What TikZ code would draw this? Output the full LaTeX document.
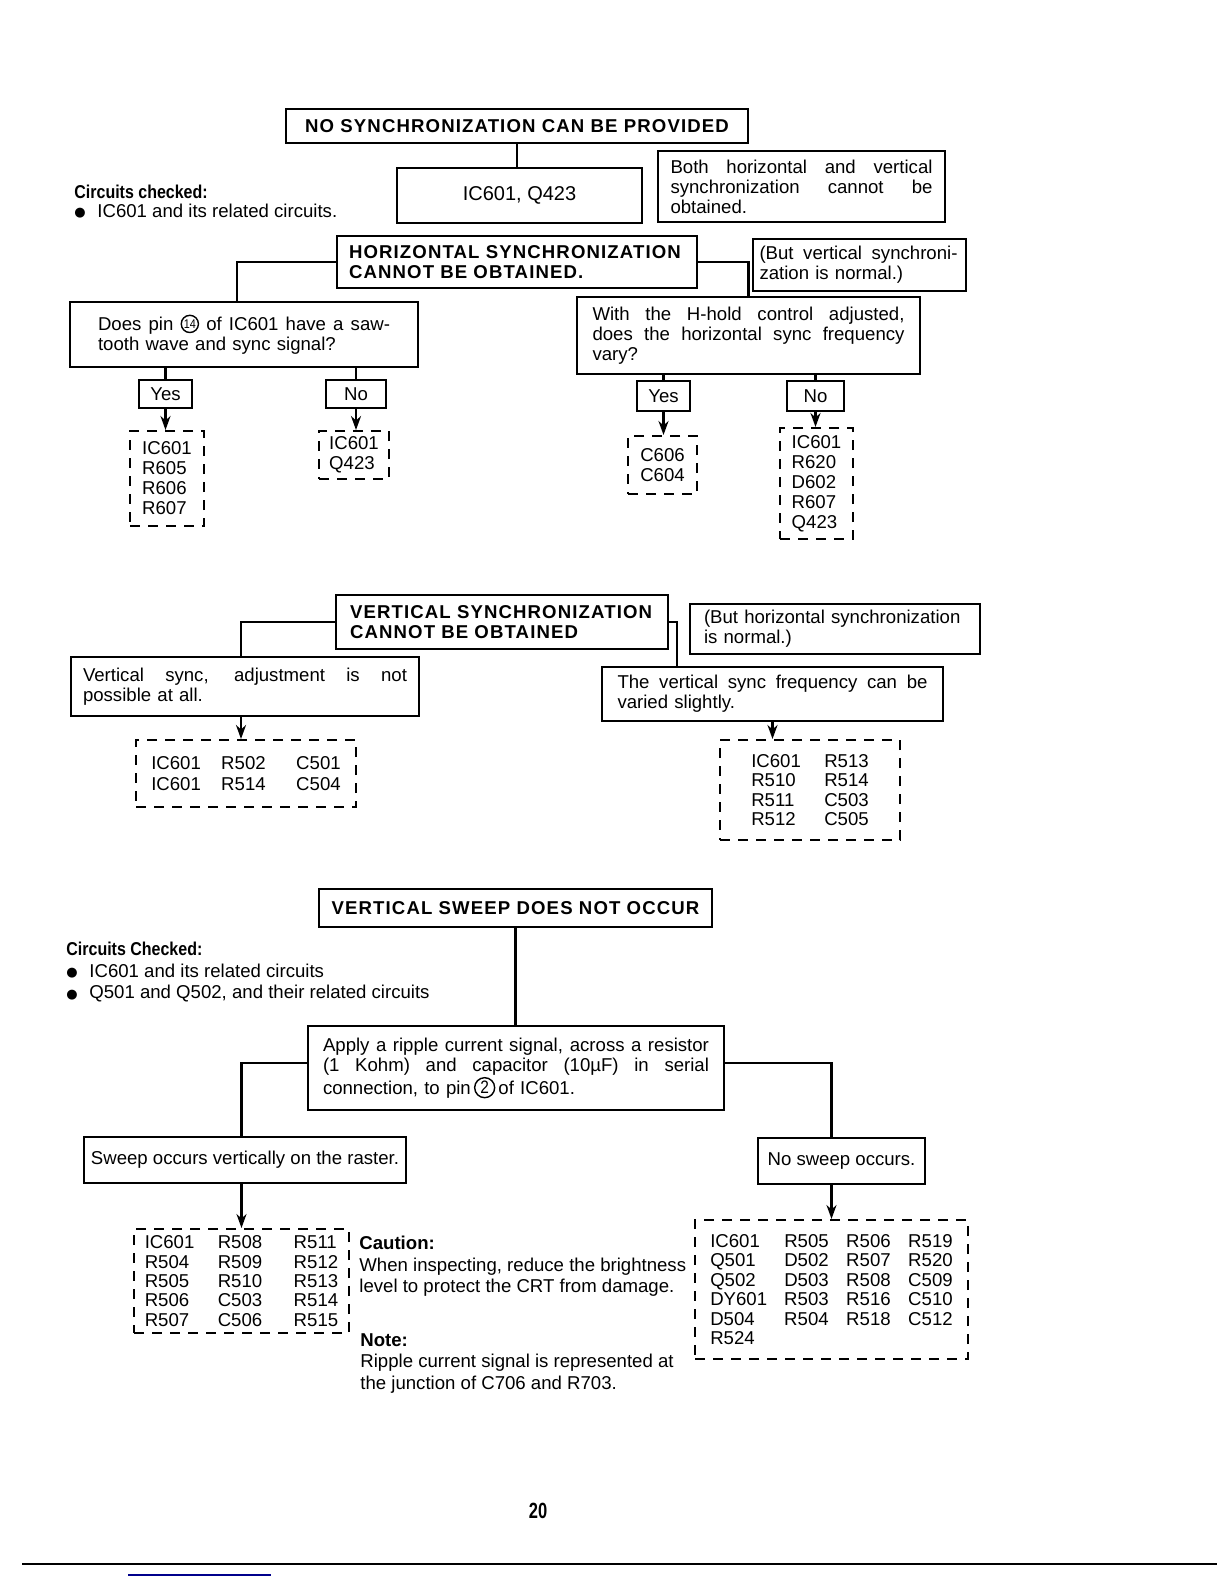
\documentclass[tikz,border=0pt]{standalone}
\usepackage{fontspec}
\usepackage{graphicx}
\setmainfont{Liberation Sans}
\newfontfamily\titlefont{Liberation Sans}[LetterSpace=6]
\newfontfamily\condfont{Liberation Sans}[FakeStretch=0.86]
\newfontfamily\symfont{DejaVu Sans}
\usetikzlibrary{arrows.meta}
% justified line: restore stretchable interword glue, then spread to width
\newcommand{\jl}[2]{{\spaceskip=0pt\xspaceskip=0pt\makebox[#1][s]{#2}}}
\newcommand{\cl}[2]{\makebox[#1][l]{#2}}
\newcommand{\bul}{\makebox[11.5pt][l]{\raisebox{0.3pt}{\symfont\fontsize{6.5}{7}\selectfont ●}}}
\newcommand{\bodysize}{\fontsize{9.3}{10}\selectfont}
% circled number: {radius}{font size}{digits}
\newcommand{\circnum}[3]{\tikz[baseline=-3.3pt]{\draw[line width=0.7pt] (0,0) circle (#1); \pgftext{\condfont\fontsize{#2}{#2}\selectfont #3}}}
% box given by its corners: [options]{name}{x1}{y1}{x2}{y2}{text}
\newcommand{\bx}[7][]{\node[#1, minimum width={(#5-#3)*0.5pt}, minimum height={(#6-#4)*0.5pt}] (#2) at ({(#3+#5)/2},{(#4+#6)/2}) {#7};}
\begin{document}
\begin{tikzpicture}[x=0.5pt,y=-0.5pt,
  every node/.style={font=\bodysize},
  box/.style={draw, line width=1.2pt, inner sep=0pt},
  dbox/.style={draw, line width=1pt, inner sep=0pt, dash pattern=on 5pt off 4pt},
  tfont/.style={font={\titlefont\bfseries\bodysize}},
  conn/.style={line width=1.2pt},
  arr/.style={line width=1.2pt,-{Stealth[length=7pt,width=5pt]}},
  note/.style={anchor=north west, align=left, inner sep=0pt, font={\fontsize{9.3}{10.75}\selectfont}}
]
\fill[white] (0,0) rectangle (1224,1584);
\useasboundingbox (0,0) rectangle (1224,1584);

% ---------- top section ----------
\bx[box, tfont]{t1}{286}{109}{748}{143}{NO SYNCHRONIZATION CAN BE PROVIDED}
\bx[box, font={\fontsize{10}{11}\selectfont}]{ic}{397}{168}{642}{223}{IC601, Q423}
\bx[box, text width=131pt, align=left]{both}{658}{151}{945}{222}
  {\jl{131pt}{Both horizontal and vertical}\\\jl{131pt}{synchronization cannot be}\\obtained.}
\node[anchor=north west, align=left, inner sep=0pt, font={\fontsize{9.3}{9.2}\selectfont}] (cc1) at (74,185)
  {{\condfont\bfseries Circuits checked:}\\\bul IC601 and its related circuits.};

\bx[box, tfont, text width=168pt, align=left]{hor}{337}{236}{697}{288}
  {HORIZONTAL SYNCHRONIZATION\\CANNOT BE OBTAINED.}
\bx[box, text width=100pt, align=left]{bv}{753}{239}{966}{291}
  {\jl{99pt}{(But vertical synchroni-}\\zation is normal.)}
\bx[box, text width=146pt, align=left]{does}{70}{302}{418}{367}
  {\jl{146pt}{Does pin \circnum{4.3pt}{6.3}{14} of IC601 have a saw-}\\tooth wave and sync signal?}
\bx[box, text width=156pt, align=left]{with}{577}{297}{920}{374}
  {\jl{156pt}{With the H-hold control adjusted,}\\\jl{156pt}{does the horizontal sync frequency}\\vary?}

\bx[box]{y1}{139}{380}{192}{408}{Yes}
\bx[box]{n1}{326}{380}{386}{408}{No}
\bx[box]{y2}{637}{381}{690}{411}{Yes}
\bx[box]{n2}{787}{381}{844}{411}{No}

\bx[dbox, align=left]{d1}{130}{431}{204}{526}{IC601\\R605\\R606\\R607}
\bx[dbox, align=left]{d2}{319}{431}{389}{479}{IC601\\Q423}
\bx[dbox, align=left]{d3}{628}{436}{697}{494}{C606\\C604}
\bx[dbox, align=left]{d4}{780}{428}{853}{539}{IC601\\R620\\D602\\R607\\Q423}

\draw[conn] (t1.south) -- (t1.south |- ic.north);
\draw[conn] (hor.west) -| ([xshift=-3.5pt]does.north);
\draw[conn] (hor.east) -| (with.north);
\draw[conn] (y1.north |- does.south) -- (y1.north);
\draw[conn] (n1.north |- does.south) -- (n1.north);
\draw[conn] (y2.north |- with.south) -- (y2.north);
\draw[conn] (n2.north |- with.south) -- (n2.north);
\draw[arr] (y1.south) -- (y1.south |- d1.north);
\draw[arr] (n1.south) -- (n1.south |- d2.north);
\draw[arr] (y2.south) -- (y2.south |- d3.north);
\draw[arr] (n2.south) -- (n2.south |- d4.north);

% ---------- middle section ----------
\bx[box, tfont, text width=152pt, align=left]{ver}{336}{595}{668}{649}
  {VERTICAL SYNCHRONIZATION\\CANNOT BE OBTAINED}
\bx[box, text width=131pt, align=left]{bh}{690}{604}{980}{654}
  {(But horizontal synchronization\\is normal.)}
\bx[box, text width=162pt, align=left]{vs}{71}{657}{419}{716}
  {\jl{162pt}{Vertical sync, adjustment is not}\\possible at all.}
\bx[box, text width=155pt, align=left]{fr}{602}{667}{943}{721}
  {\jl{155pt}{The vertical sync frequency can be}\\varied slightly.}
\bx[dbox, align=left, font={\fontsize{9.3}{10.5}\selectfont}]{d5}{136}{740}{356}{807}
  {\cl{35pt}{IC601}\cl{37.5pt}{R502}C501\\\cl{35pt}{IC601}\cl{37.5pt}{R514}C504}
\bx[dbox, align=left, font={\fontsize{9.3}{9.8}\selectfont}]{d6}{720}{740}{900}{840}
  {\cl{36.5pt}{IC601}R513\\\cl{36.5pt}{R510}R514\\\cl{36.5pt}{R511}C503\\\cl{36.5pt}{R512}C505}

\draw[conn] (ver.west) -| ([xshift=-2pt]vs.north);
\draw[conn] (ver.east) -| ([xshift=38pt]fr.north west);
\draw[arr] ([xshift=-2pt]vs.south) -- ([xshift=-2pt]vs.south |- d5.north);
\draw[arr] (fr.south) -- (fr.south |- d6.north);

% ---------- bottom section ----------
\bx[box, tfont]{sw}{319}{889}{712}{927}{VERTICAL SWEEP DOES NOT OCCUR}
\node[note] (cc2) at (66,942)
  {{\condfont\bfseries Circuits Checked:}\\\bul IC601 and its related circuits\\\bul Q501 and Q502, and their related circuits};
\bx[box, text width=193pt, align=left]{ap}{308}{1026}{724}{1110}
  {\jl{193pt}{Apply a ripple current signal, across a resistor}\\\jl{193pt}{(1 Kohm) and capacitor (10µF) in serial}\\connection, to pin\,\circnum{5pt}{9}{2}\,of IC601.}
\bx[box]{occ}{84}{1137}{406}{1183}{Sweep occurs vertically on the raster.}
\bx[box]{nos}{758}{1138}{925}{1184}{No sweep occurs.}
\bx[dbox, align=left, font={\fontsize{9.3}{9.7}\selectfont}]{d7}{134}{1229}{349}{1333}
  {\cl{36.5pt}{IC601}\cl{38pt}{R508}R511\\
   \cl{36.5pt}{R504}\cl{38pt}{R509}R512\\
   \cl{36.5pt}{R505}\cl{38pt}{R510}R513\\
   \cl{36.5pt}{R506}\cl{38pt}{C503}R514\\
   \cl{36.5pt}{R507}\cl{38pt}{C506}R515}
\node[note] (cau) at (359,1236)
  {\textbf{Caution:}\\When inspecting, reduce the brightness\\level to protect the CRT from damage.};
\node[note] (nt) at (360,1333)
  {\textbf{Note:}\\Ripple current signal is represented at\\the junction of C706 and R703.};
\bx[dbox, align=left, font={\fontsize{9.3}{9.7}\selectfont}]{d8}{695}{1220}{968}{1359}
  {\cl{37pt}{IC601}\cl{31pt}{R505}\cl{31pt}{R506}R519\\
   \cl{37pt}{Q501}\cl{31pt}{D502}\cl{31pt}{R507}R520\\
   \cl{37pt}{Q502}\cl{31pt}{D503}\cl{31pt}{R508}C509\\
   \cl{37pt}{DY601}\cl{31pt}{R503}\cl{31pt}{R516}C510\\
   \cl{37pt}{D504}\cl{31pt}{R504}\cl{31pt}{R518}C512\\
   \cl{37pt}{R524}\hphantom{R504}}

\draw[conn] (sw.south) -- (sw.south |- ap.north);
\draw[conn] ([yshift=2.5pt]ap.west) -| (occ.north -| d7.north);
\draw[conn] ([yshift=2.5pt]ap.east) -| (nos.north -| d8.north);
\draw[arr] (occ.south -| d7.north) -- (d7.north);
\draw[arr] (nos.south -| d8.north) -- (d8.north);

% ---------- page footer ----------
\node (pg) at (538,1511) {\scalebox{0.75}[1]{\bfseries\fontsize{11}{12}\selectfont 20}};
\draw[line width=1pt] (22,1564) -- (1217,1564);
\draw[line width=1pt, blue!55!black] (128,1575) -- (271,1575);
\end{tikzpicture}
\end{document}
